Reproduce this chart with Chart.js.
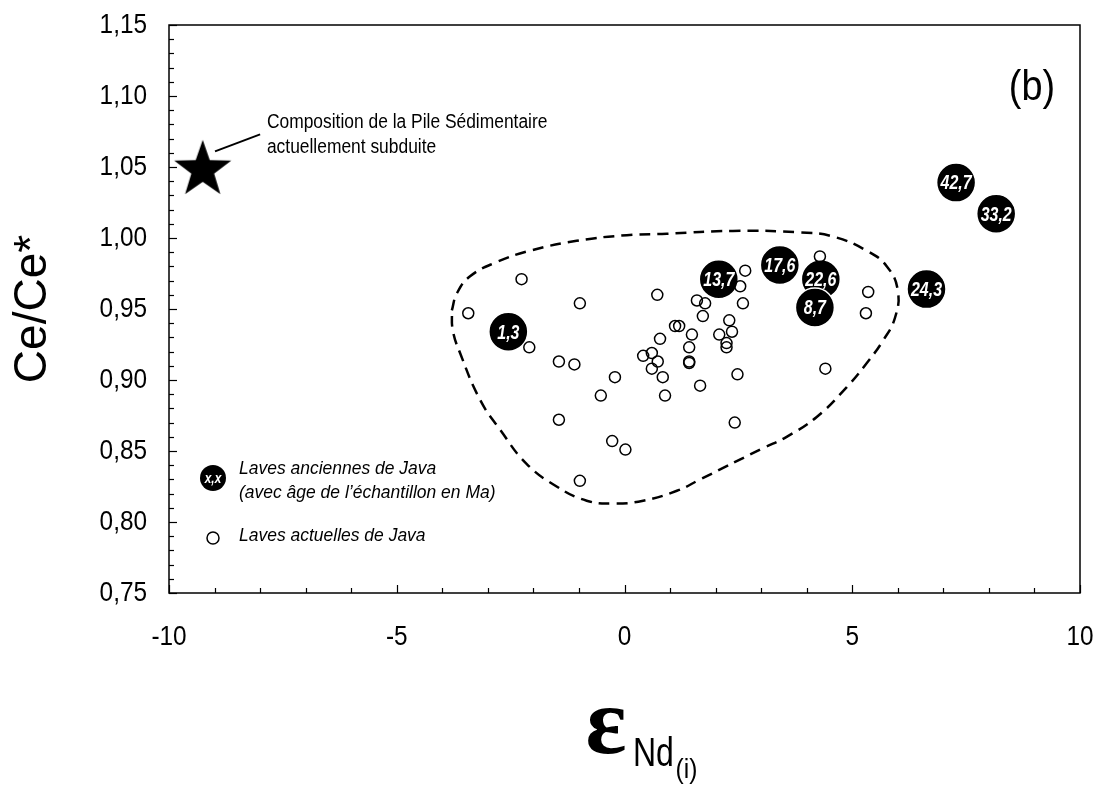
<!DOCTYPE html>
<html>
<head>
<meta charset="utf-8">
<script src="https://cdn.jsdelivr.net/npm/chart.js@4.4.0/dist/chart.umd.min.js"></script>
<style>
  body { margin: 0; background: #fff; }
  #wrap { width: 1097px; height: 787px; }
</style>
</head>
<body>
<div id="wrap"><canvas id="graf" width="1097" height="787"></canvas></div>
<script>
// laves actuelles de Java (cercles vides)
const actX = [-2.26, -3.43, -0.98, 0.72, -2.09, -1.44, -1.10, -0.21, -0.52, -1.44, -0.98, -0.27, 0.02,
  0.41, 0.60, 0.73, 0.60, 0.84, 0.89, 0.78, 1.11, 1.20, 1.48, 1.42, 1.42, 1.42, 1.59, 1.77, 1.72, 1.66,
  2.08, 2.30, 2.36, 2.24, 2.24, 2.60, 2.48, 2.42, 2.65, 2.54, 4.29, 5.35, 5.30, 4.41];
const actY = [0.971, 0.947, 0.954, 0.960, 0.923, 0.913, 0.911, 0.902, 0.889, 0.872, 0.829, 0.857, 0.851,
  0.917, 0.919, 0.913, 0.908, 0.902, 0.889, 0.929, 0.938, 0.938, 0.932, 0.923, 0.913, 0.912, 0.956, 0.954, 0.945, 0.896,
  0.932, 0.942, 0.934, 0.926, 0.923, 0.954, 0.904, 0.870, 0.977, 0.966, 0.987, 0.962, 0.947, 0.908];

// laves anciennes de Java (age en Ma)
const ancX = [-2.55, 2.07, 3.41, 4.31, 4.18, 7.28, 8.16, 6.63];
const ancY = [0.934, 0.971, 0.981, 0.971, 0.951, 1.039, 1.017, 0.964];
const ancAge = ['1,3', '13,7', '17,6', '22,6', '8,7', '42,7', '33,2', '24,3'];

// pile sedimentaire
const sedX = [-9.26];
const sedY = [1.048];

// enveloppe en tirets
const envX = [-3.79, -3.68, -3.39, -2.81, -2.08, -1.05, 0.05, 0.93, 2.38, 3.85, 4.58, 5.32, 5.76, 6.00,
  5.94, 5.68, 5.32, 4.88, 4.22, 3.56, 3.04, 1.66, 1.15, 0.41, -0.25, -0.83, -1.49, -2.15, -2.73, -3.17, -3.61, -3.77, -3.79];
const envY = [0.949, 0.961, 0.973, 0.983, 0.991, 0.998, 1.002, 1.003, 1.005, 1.004, 1.001, 0.991, 0.980, 0.963,
  0.944, 0.928, 0.912, 0.895, 0.874, 0.860, 0.852, 0.830, 0.822, 0.815, 0.813, 0.815, 0.825, 0.841, 0.865, 0.886, 0.919, 0.935, 0.949];

const yTicks = [0.75, 0.80, 0.85, 0.90, 0.95, 1.00, 1.05, 1.10, 1.15];
const xTicks = [-10, -5, 0, 5, 10];

const SANS = '"Liberation Sans", Arial, sans-serif';
Chart.defaults.font.family = SANS;
Chart.defaults.color = '#000';

function pts(xs, ys) {
  return xs.map((v, i) => ({x: v, y: ys[i]}));
}

// texte un peu serre (façon Arial Narrow)
function txt(ctx, s, x, y, font, sx, align) {
  ctx.save();
  ctx.font = font;
  ctx.translate(x, y);
  ctx.scale(sx, 1);
  ctx.textAlign = align || 'left';
  ctx.fillText(s, 0, 0);
  ctx.restore();
}

// etoile pleine
const star = document.createElement('canvas');
star.width = 64; star.height = 64;
(function () {
  const c = star.getContext('2d');
  c.beginPath();
  for (let i = 0; i < 10; i++) {
    const r = i % 2 === 0 ? 30 : 12;
    const a = -Math.PI / 2 + i * Math.PI / 5;
    c.lineTo(32 + r * Math.cos(a), 32 + r * Math.sin(a));
  }
  c.closePath();
  c.fillStyle = '#000';
  c.fill();
})();

const habillage = {
  id: 'habillage',
  beforeDatasetsDraw(chart) {
    const {ctx, chartArea: a, scales: {x, y}} = chart;
    ctx.save();
    ctx.strokeStyle = '#000';
    ctx.lineWidth = 1.5;
    ctx.strokeRect(a.left, a.top, a.right - a.left, a.bottom - a.top);
    ctx.lineWidth = 1.2;
    for (let i = 0; i <= 40; i++) {
      const py = Math.round(y.getPixelForValue(0.75 + i * 0.01)) + 0.5;
      const len = i % 5 === 0 ? 8 : 5;
      ctx.beginPath(); ctx.moveTo(a.left, py); ctx.lineTo(a.left + len, py); ctx.stroke();
    }
    for (let v = -10; v <= 10; v++) {
      const px = Math.round(x.getPixelForValue(v)) + 0.5;
      const len = v % 5 === 0 ? 8 : 5;
      ctx.beginPath(); ctx.moveTo(px, a.bottom); ctx.lineTo(px, a.bottom - len); ctx.stroke();
    }
    ctx.restore();
  },
  afterDatasetsDraw(chart) {
    const {ctx, chartArea: a, scales: {x, y}} = chart;
    ctx.save();
    ctx.textBaseline = 'middle';

    // graduations
    ctx.fillStyle = '#000';
    yTicks.forEach(v => {
      txt(ctx, v.toFixed(2).replace('.', ','), a.left - 22, y.getPixelForValue(v), '28px ' + SANS, 0.87, 'right');
    });
    xTicks.forEach(v => {
      txt(ctx, String(v), x.getPixelForValue(v), a.bottom + 44, '28px ' + SANS, 0.87, 'center');
    });

    // ages dans les cercles
    ctx.fillStyle = '#fff';
    ancAge.forEach((t, i) => {
      txt(ctx, t, x.getPixelForValue(ancX[i]), y.getPixelForValue(ancY[i]) + 1, 'italic bold 21px ' + SANS, 0.76, 'center');
    });

    // fleche + texte de l'etoile
    ctx.fillStyle = '#000';
    ctx.strokeStyle = '#000';
    ctx.lineWidth = 2;
    ctx.beginPath();
    ctx.moveTo(x.getPixelForValue(-8.99), y.getPixelForValue(1.061));
    ctx.lineTo(x.getPixelForValue(-8.0), y.getPixelForValue(1.073));
    ctx.stroke();
    txt(ctx, 'Composition de la Pile Sédimentaire', x.getPixelForValue(-7.85), y.getPixelForValue(1.081), '20px ' + SANS, 0.87);
    txt(ctx, 'actuellement subduite', x.getPixelForValue(-7.85), y.getPixelForValue(1.064), '20px ' + SANS, 0.87);

    // (b)
    txt(ctx, '(b)', a.right - 25, a.top + 63, '42px ' + SANS, 0.9, 'right');

    // legende
    const lx = a.left + 44;
    ctx.beginPath();
    ctx.arc(lx, a.bottom - 115, 13, 0, Math.PI * 2);
    ctx.fill();
    ctx.fillStyle = '#fff';
    txt(ctx, 'x,x', lx, a.bottom - 114, 'italic bold 14px ' + SANS, 0.85, 'center');
    ctx.fillStyle = '#000';
    ctx.lineWidth = 1.5;
    ctx.beginPath();
    ctx.arc(lx, a.bottom - 55, 6, 0, Math.PI * 2);
    ctx.stroke();
    const lf = 'italic 19px ' + SANS;
    txt(ctx, 'Laves anciennes de Java', a.left + 70, a.bottom - 124, lf, 0.92);
    txt(ctx, '(avec âge de l\u2019échantillon en Ma)', a.left + 70, a.bottom - 100, lf, 0.92);
    txt(ctx, 'Laves actuelles de Java', a.left + 70, a.bottom - 57, lf, 0.92);

    // titres des axes
    const cx = (a.left + a.right) / 2;
    ctx.textBaseline = 'alphabetic';
    txt(ctx, '\u03b5', cx - 39, a.bottom + 160, 'bold 96px "Liberation Serif", "Times New Roman", serif', 1);
    txt(ctx, 'Nd', cx + 8.5, a.bottom + 173, '40px ' + SANS, 0.8);
    txt(ctx, '(i)', cx + 51, a.bottom + 185, '28px ' + SANS, 0.88);

    ctx.translate(46, (a.top + a.bottom) / 2);
    ctx.rotate(-Math.PI / 2);
    txt(ctx, 'Ce/Ce*', 0, 0, '46px ' + SANS, 1, 'center');
    ctx.restore();
  }
};

new Chart(document.getElementById('graf'), {
  type: 'scatter',
  data: {
    datasets: [
      {
        label: 'enveloppe',
        data: pts(envX, envY),
        showLine: true,
        borderColor: '#000',
        borderWidth: 2.5,
        borderDash: [11, 7],
        tension: 0.45,
        pointRadius: 0,
        fill: false
      },
      {
        label: 'Laves actuelles de Java',
        data: pts(actX, actY),
        pointRadius: 5.5,
        borderWidth: 1.5,
        borderColor: '#000',
        backgroundColor: 'rgba(0,0,0,0)'
      },
      {
        label: 'Laves anciennes de Java',
        data: pts(ancX, ancY),
        pointRadius: 19.5,
        borderWidth: 1.5,
        borderColor: '#fff',
        backgroundColor: '#000'
      },
      {
        label: 'Pile sédimentaire',
        data: pts(sedX, sedY),
        pointStyle: star,
        clip: false
      }
    ]
  },
  options: {
    responsive: false,
    animation: false,
    events: [],
    layout: { autoPadding: false, padding: { top: 25, right: 17, left: 0, bottom: 0 } },
    plugins: { legend: { display: false }, tooltip: { enabled: false } },
    scales: {
      x: {
        min: -10, max: 10,
        afterFit: (s) => { s.height = 194; s.paddingLeft = 0; s.paddingRight = 0; },
        grid: { display: false, drawTicks: false },
        border: { display: false },
        ticks: { display: false }
      },
      y: {
        min: 0.75, max: 1.15,
        afterFit: (s) => { s.width = 169; s.paddingTop = 0; s.paddingBottom = 0; },
        grid: { display: false, drawTicks: false },
        border: { display: false },
        ticks: { display: false }
      }
    }
  },
  plugins: [habillage]
});
</script>
</body>
</html>
